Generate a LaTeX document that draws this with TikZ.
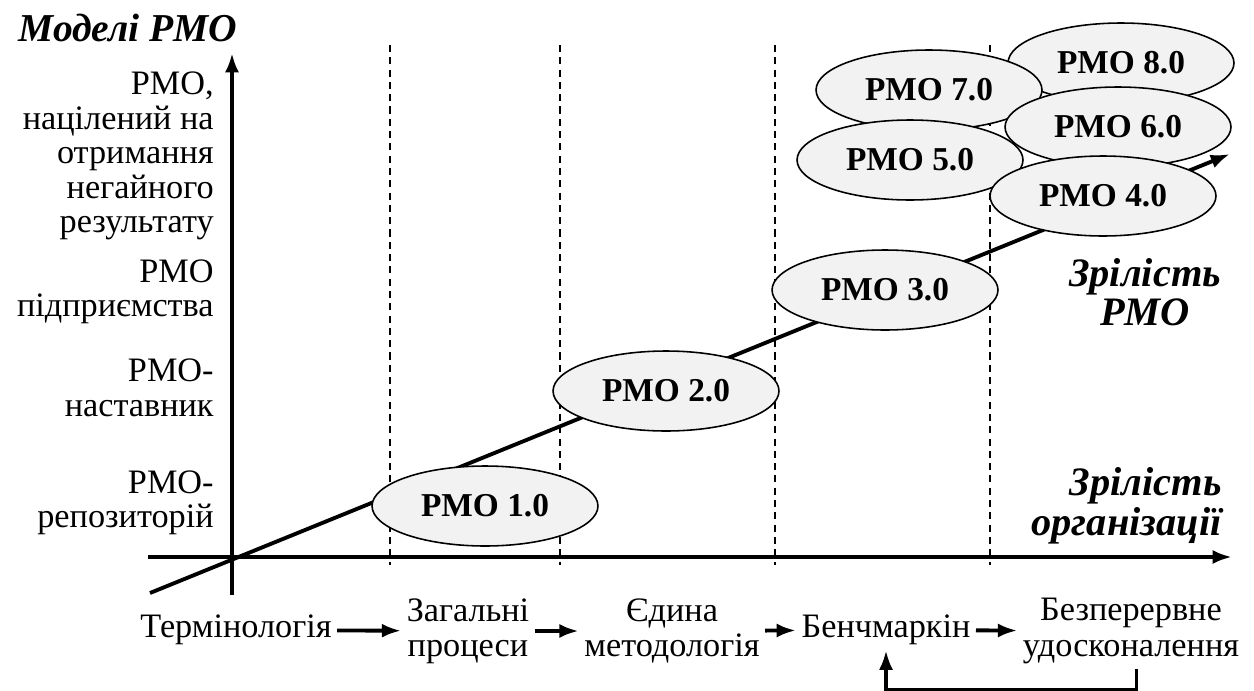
\documentclass[tikz,border=0pt]{standalone}
\usepackage{fontspec}
\setmainfont{Liberation Serif}
\usetikzlibrary{shapes.geometric,positioning,arrows.meta}

\tikzset{
    axis/.style={line width=2.2pt,-{Latex[length=11pt,width=8pt]}},
    gridline/.style={line width=0.7pt,dash pattern=on 4pt off 3pt},
    pmo/.style={ellipse,draw,line width=0.9pt,fill=gray!10,minimum width=4.52cm,minimum height=1.6cm,inner sep=0pt,font=\fontsize{19}{20}\selectfont\bfseries},
    level/.style={anchor=east,align=right,inner sep=0pt,font=\fontsize{19.5}{19.6}\selectfont},
    maturity/.style={inner sep=0pt,font=\fontsize{23}{22.5}\selectfont\bfseries\itshape},
    stage/.style={align=center,inner sep=3pt,font=\fontsize{19.5}{20}\selectfont},
    flow/.style={line width=2.2pt,-{Latex[length=11pt,width=8pt]}},
}

\begin{document}
\begin{tikzpicture}[x=0.02cm,y=-0.02cm]
    \useasboundingbox (0,0) rectangle (1254,690);

    % stage borders
    \foreach \xpos in {390,560,775,990} {
        \draw[gridline] (\xpos,45) -- (\xpos,565);
    }

    % axes
    \coordinate (O) at (232,557);
    \coordinate (ytop) at (232,53);
    \coordinate (ybot) at (232,595);
    \coordinate (xleft) at (148,557);
    \coordinate (xright) at (1232,557);
    \coordinate (dstart) at (150,593);
    \coordinate (dend) at (1230,154);

    \draw[axis] (ybot) -- (ytop);
    \draw[axis] (xleft) -- (xright);
    \draw[axis] (dstart) -- (dend);

    \node[font=\fontsize{22.5}{24}\selectfont\bfseries\itshape] (models) at (128,28) {Моделі PMO};

    % PMO levels
    \node[level] (lvl4) at (214,156) {PMO,\\націлений на\\отримання\\негайного\\результату};
    \node[level] (lvl3) at (214,292) {PMO\\підприємства};
    \node[level] (lvl2) at (214,388) {PMO-\\наставник};
    \node[level] (lvl1) at (214,503) {PMO-\\репозиторій};

    \node[maturity,align=center] (pmomat) at (1145,292) {Зрілість\\PMO};
    \node[maturity,align=right,anchor=east] (orgmat) at (1222,506) {Зрілість\\організації};

    % ellipses
    \node[pmo] (pmo1) at (485,506) {PMO 1.0};
    \node[pmo] (pmo2) at (666,391) {PMO 2.0};
    \node[pmo] (pmo3) at (885,290) {PMO 3.0};
    \node[pmo] (pmo8) at (1121,63) {PMO 8.0};
    \node[pmo] (pmo7) at (929,90) {PMO 7.0};
    \node[pmo] (pmo6) at (1118,127) {PMO 6.0};
    \node[pmo] (pmo5) at (910,160) {PMO 5.0};
    \node[pmo] (pmo4) at (1103,196) {PMO 4.0};

    % stages
    \node[stage] (term) at (236,630) {Термінологія};
    \node[stage] (proc) at (468,631) {Загальні\\процеси};
    \node[stage] (meth) at (672,631) {Єдина\\методологія};
    \node[stage] (bench) at (886,630) {Бенчмаркін};
    \node[stage] (impr) at (1131,631) {Безперервне\\удосконалення};

    \draw[flow] (term) -- (proc);
    \draw[flow] (proc) -- (meth);
    \draw[flow] (meth) -- (bench);
    \draw[flow] (bench) -- (impr);
    \draw[flow,line width=1.8pt] ([xshift=3]impr.south) -- ++(0,20) -| (bench.south);

\end{tikzpicture}
\end{document}
